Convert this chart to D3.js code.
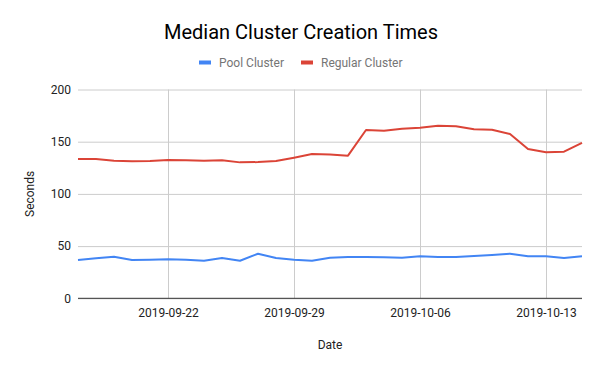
<!DOCTYPE html>
<html>
<head>
<meta charset="utf-8">
<script src="https://cdnjs.cloudflare.com/ajax/libs/d3/7.8.5/d3.min.js"></script>
<style>
  body { margin: 0; background: #fff; }
  svg { font-family: Roboto, "Noto Sans", Arial, sans-serif; }
</style>
</head>
<body>
<svg id="chart" width="600" height="371"></svg>
<script>
// 29 daily points, 2019-09-17 .. 2019-10-15
let startDate = "2019-09-17"
let poolValues = [36.7, 38.3, 39.9, 36.7, 37, 37.4, 36.9, 36, 38.6, 36, 42.7, 38.6, 37, 36, 38.9,
  39.6, 39.6, 39.3, 38.9, 40.2, 39.6, 39.6, 40.5, 41.5, 42.7, 40.2, 40.2, 38.6, 40.2]
let regularValues = [133.4, 133.4, 131.8, 131.2, 131.5, 132.5, 132.2, 131.8, 132.2, 130.2, 130.5, 131.5, 134.7, 138.2, 137.8,
  136.6, 161.2, 160.6, 162.5, 163.4, 165.3, 164.7, 161.9, 161.5, 157.4, 143, 139.8, 140.4, 148.8]
let yTicks = [0, 50, 100, 150, 200]
let xTicks = ["2019-09-22", "2019-09-29", "2019-10-06", "2019-10-13"]
let seriesNames = ["Pool Cluster", "Regular Cluster"]
let colors = ["#4285f4", "#db4437"]

let parse = d3.timeParse("%Y-%m-%d")
let fmt = d3.timeFormat("%Y-%m-%d")
let t0 = parse(startDate)
let dates = poolValues.map((v, i) => d3.timeDay.offset(t0, i))

let svg = d3.select("#chart")
let pLeft = 78, pRight = 582, pTop = 89.5, pBottom = 298.3

let x = d3.scaleTime().domain(d3.extent(dates)).range([pLeft, pRight])
let y = d3.scaleLinear().domain([0, 200]).range([pBottom, pTop])

svg.append("text")
  .attr("x", 301).attr("y", 39)
  .attr("text-anchor", "middle")
  .attr("font-size", "20px")
  .attr("fill", "#000")
  .text("Median Cluster Creation Times")

// legend
let legend = [{name: seriesNames[0], c: colors[0], x: 199}, {name: seriesNames[1], c: colors[1], x: 301}]
legend.forEach((l) => {
  svg.append("rect").attr("x", l.x).attr("y", 60.5).attr("width", 12).attr("height", 4).attr("fill", l.c)
  svg.append("text").attr("x", l.x + 20).attr("y", 66.5)
    .attr("font-size", "12px").attr("fill", "#757575").text(l.name)
})

// horizontal grid
svg.append("g")
  .attr("transform", "translate(" + pLeft + ",0)")
  .call(d3.axisLeft(y).tickValues(yTicks).tickSize(-(pRight - pLeft)).tickFormat(""))
  .call(g => g.select(".domain").remove())
  .call(g => g.selectAll("line").attr("stroke", "#cccccc"))

// vertical grid
svg.append("g")
  .attr("transform", "translate(0," + pBottom + ")")
  .call(d3.axisBottom(x).tickValues(xTicks.map(parse)).tickSize(-(pBottom - pTop)).tickFormat(""))
  .call(g => g.select(".domain").remove())
  .call(g => g.selectAll("line").attr("stroke", "#cccccc"))

// y labels
svg.append("g")
  .attr("transform", "translate(" + pLeft + ",0)")
  .call(d3.axisLeft(y).tickValues(yTicks).tickSize(0).tickPadding(7))
  .call(g => g.select(".domain").remove())
  .call(g => g.selectAll("text").attr("font-size", "12px").attr("fill", "#222").attr("font-family", "Roboto"))

// x labels
svg.append("g")
  .attr("transform", "translate(0," + pBottom + ")")
  .call(d3.axisBottom(x).tickValues(xTicks.map(parse)).tickSize(0).tickPadding(10).tickFormat(fmt))
  .call(g => g.select(".domain").remove())
  .call(g => g.selectAll("text").attr("font-size", "12px").attr("fill", "#222").attr("font-family", "Roboto"))

// baseline
svg.append("line")
  .attr("x1", pLeft).attr("x2", pRight)
  .attr("y1", y(0)).attr("y2", y(0))
  .attr("stroke", "#333").attr("stroke-width", 1)

let line = d3.line()
  .x((d, i) => x(dates[i]))
  .y((d) => y(d))

;[poolValues, regularValues].forEach((vals, i) => {
  svg.append("path")
    .datum(vals)
    .attr("fill", "none")
    .attr("stroke", colors[i])
    .attr("stroke-width", 2)
    .attr("stroke-linejoin", "round")
    .attr("d", line)
})

svg.append("text")
  .attr("x", (pLeft + pRight) / 2).attr("y", 349)
  .attr("text-anchor", "middle")
  .attr("font-size", "12px").attr("fill", "#222")
  .text("Date")

svg.append("text")
  .attr("transform", "translate(34," + (pTop + pBottom) / 2 + ") rotate(-90)")
  .attr("text-anchor", "middle")
  .attr("font-size", "12px").attr("fill", "#222")
  .text("Seconds")
</script>
</body>
</html>
